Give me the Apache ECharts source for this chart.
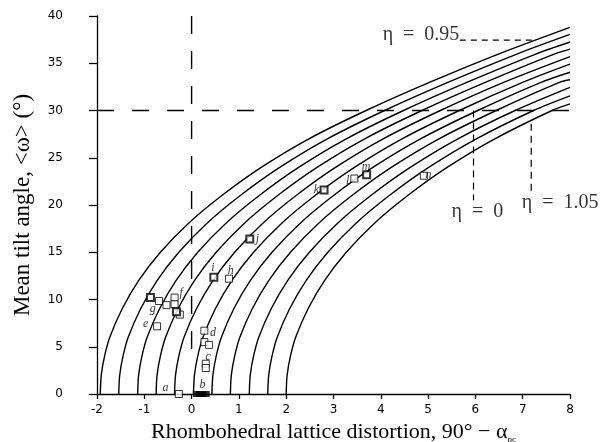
<!DOCTYPE html>
<html><head><meta charset="utf-8">
<script src="https://cdn.jsdelivr.net/npm/echarts@6/dist/echarts.min.js"></script>
<style>html,body{margin:0;padding:0;background:#fff}#c{width:602px;height:442px}</style>
</head><body><div id="c"></div>
<script>
// Tilt levels (y) at which each curve's x position was read
const tiltLevels = [0, 2, 4, 6, 9, 12, 15, 18, 21, 24, 27, 30, 33, 36];
const curve1X  = [-1.93, -1.91, -1.84, -1.73, -1.47, -1.12, -0.66, -0.08, 0.64, 1.48, 2.48, 3.69, 5.04, 6.50];
const curve2X  = [-1.54, -1.52, -1.45, -1.34, -1.08, -0.73, -0.27, 0.31, 1.03, 1.87, 2.87, 4.08, 5.43, 6.89];
const curve3X  = [-1.14, -1.12, -1.05, -0.94, -0.68, -0.33, 0.13, 0.71, 1.43, 2.27, 3.27, 4.48, 5.83, 7.29];
const curve4X  = [-0.75, -0.73, -0.66, -0.55, -0.29, 0.06, 0.52, 1.10, 1.82, 2.66, 3.66, 4.87, 6.22, 7.68];
const curve5X  = [-0.36, -0.34, -0.27, -0.16, 0.10, 0.45, 0.91, 1.49, 2.21, 3.05, 4.05, 5.26, 6.61];
const curve6X  = [0.04, 0.06, 0.13, 0.24, 0.50, 0.85, 1.31, 1.89, 2.61, 3.45, 4.45, 5.66, 7.01];
const curve7X  = [0.43, 0.45, 0.52, 0.63, 0.89, 1.24, 1.70, 2.28, 3.00, 3.84, 4.84, 6.05, 7.40];
const curve8X  = [0.82, 0.84, 0.91, 1.02, 1.28, 1.63, 2.09, 2.67, 3.39, 4.23, 5.23, 6.44, 7.79];
const curve9X  = [1.22, 1.24, 1.31, 1.42, 1.68, 2.03, 2.49, 3.07, 3.79, 4.63, 5.63, 6.84];
const curve10X = [1.61, 1.63, 1.70, 1.81, 2.07, 2.42, 2.88, 3.46, 4.18, 5.02, 6.02, 7.23];
const curve11X = [2.00, 2.02, 2.09, 2.20, 2.46, 2.81, 3.27, 3.85, 4.57, 5.41, 6.41, 7.62];
// tilt value of each curve where it ends at x = 8
const curveEndX = 8;
const curveEndY = [38.8, 38.05, 37.25, 36.5, 35.7, 34.9, 34.05, 33.25, 32.45, 31.55, 30.7];

// measured compounds
const openPoints = [[-0.69, 9.84], [-0.53, 9.4], [-0.36, 10.2], [-0.36, 9.5], [-0.25, 8.4], [-0.73, 7.16],
  [0.27, 6.7], [0.27, 5.5], [0.37, 5.2], [0.30, 3.2], [0.30, 2.75], [-0.27, 0], [0.79, 12.2], [3.44, 22.8], [4.91, 23.1]];
const boldPoints = [[-0.87, 10.2], [-0.32, 8.7], [0.47, 12.35], [1.23, 16.4], [2.80, 21.6], [3.70, 23.2]];
const filledPoints = [[0.10, 0], [0.17, 0], [0.24, 0], [0.31, 0]];

// letter annotations (placed at their positions in data units)
const letters = ['a', 'b', 'c', 'd', 'e', 'f', 'g', 'h', 'i', 'j', 'k', 'l', 'm', 'n'];
const letterX = [-0.55, 0.23, 0.35, 0.45, -0.97, -0.22, -0.82, 0.83, 0.45, 1.39, 2.64, 3.30, 3.69, 5.01];
const letterY = [0.65, 0.95, 3.95, 6.5, 7.4, 10.7, 9.0, 13.05, 13.3, 16.4, 21.6, 22.6, 24.05, 23.2];

// guide lines
const guideH = [[-2, 30], [8, 30]];
const guideV = [[0, 40], [0, 3.6]];
const leader095 = [[5.67, 37.45], [7.2, 37.45]];
const guideEta0 = [[5.96, 30], [5.96, 20.5]];
const guideEta105 = [[7.18, 28.6], [7.18, 21.4]];
const etaTexts = ['η\u2002=\u20020.95', 'η\u2002=\u20020', 'η\u2002=\u20021.05'];
const etaX = [4.85, 6.04, 7.79];
const etaY = [38.0, 19.3, 20.2];

const xTicks = { min: -2, max: 8, step: 1 };
const yTicks = { min: 0, max: 40, step: 5 };

const curves = [curve1X, curve2X, curve3X, curve4X, curve5X, curve6X, curve7X, curve8X, curve9X, curve10X, curve11X];

const chart = echarts.init(document.getElementById('c'), null, { renderer: 'canvas' });
const series = [];
curves.forEach((xs, i) => {
  const data = xs.map((x, k) => [x, tiltLevels[k]]);
  data.push([curveEndX, curveEndY[i]]);
  series.push({ type: 'line', data, symbol: 'none', smooth: 0.3, silent: true,
    lineStyle: { color: '#000', width: 1.4 }, z: 2 });
});
function dashed(data, dash, w) {
  return { type: 'line', data, symbol: 'none', silent: true,
    lineStyle: { color: '#000', width: w || 1.3, type: dash }, z: 1 };
}
series.push(dashed(guideH, [17, 18], 1.4));
series.push(dashed(guideV, [18, 17], 1.4));
series.push(dashed(leader095, [6, 5], 1.2));
series.push(dashed(guideEta0, [7, 5], 1.2));
series.push(dashed(guideEta105, [7, 5], 1.2));

series.push({ type: 'scatter', data: openPoints, symbol: 'rect', symbolSize: 7, z: 5,
  itemStyle: { color: '#fff', borderColor: '#000', borderWidth: 1 } });
series.push({ type: 'scatter', data: boldPoints, symbol: 'rect', symbolSize: 7, z: 5,
  itemStyle: { color: '#fff', borderColor: '#000', borderWidth: 2 } });
series.push({ type: 'scatter', data: filledPoints, symbol: 'rect', symbolSize: [7, 6], z: 5,
  itemStyle: { color: '#000', borderColor: '#000', borderWidth: 0 } });

series.push({ type: 'scatter', symbolSize: 0, z: 6, silent: true,
  data: letters.map((t, i) => ({ value: [letterX[i], letterY[i]], name: t })),
  label: { show: true, position: 'inside', formatter: p => p.name, color: '#000',
    fontFamily: 'Liberation Serif', fontStyle: 'italic', fontSize: 12 } });
series.push({ type: 'scatter', symbolSize: 0, z: 6, silent: true,
  data: etaTexts.map((t, i) => ({ value: [etaX[i], etaY[i]], name: t })),
  label: { show: true, position: 'inside', formatter: p => p.name, color: '#000',
    fontFamily: 'Liberation Serif', fontSize: 20 } });

chart.setOption({
  animation: false,
  backgroundColor: '#fff',
  grid: { left: 97, right: 32, top: 16, bottom: 48, containLabel: false, outerBoundsMode: 'none' },
  xAxis: {
    type: 'value', min: xTicks.min, max: xTicks.max, interval: xTicks.step,
    axisLine: { onZero: false, lineStyle: { color: '#000', width: 1.3 } },
    axisTick: { show: true, inside: false, length: 5, lineStyle: { color: '#000', width: 1.3 } },
    splitLine: { show: false },
    axisLabel: { color: '#000', fontFamily: 'DejaVu Sans', fontSize: 12, margin: 10 },
    name: '{t|Rhombohedral lattice distortion, 90° − α}{s|pc}',
    nameLocation: 'middle', nameGap: 27,
    nameTextStyle: { color: '#000', rich: {
      t: { fontFamily: 'Liberation Serif', fontSize: 22, color: '#000' },
      s: { fontFamily: 'Liberation Serif', fontSize: 9, color: '#000', verticalAlign: 'bottom', padding: [14, 0, 0, 0] } } }
  },
  yAxis: {
    type: 'value', min: yTicks.min, max: yTicks.max, interval: yTicks.step,
    axisLine: { onZero: false, lineStyle: { color: '#000', width: 1.3 } },
    axisTick: { show: true, inside: false, length: 8, lineStyle: { color: '#000', width: 1.3 } },
    splitLine: { show: false },
    axisLabel: { color: '#000', fontFamily: 'DejaVu Sans', fontSize: 12, margin: 34 },
    name: 'Mean tilt angle, <ω> (°)', nameLocation: 'middle', nameGap: 63,
    nameTextStyle: { color: '#000', fontFamily: 'Liberation Serif', fontSize: 23 }
  },
  series
});
</script></body></html>
